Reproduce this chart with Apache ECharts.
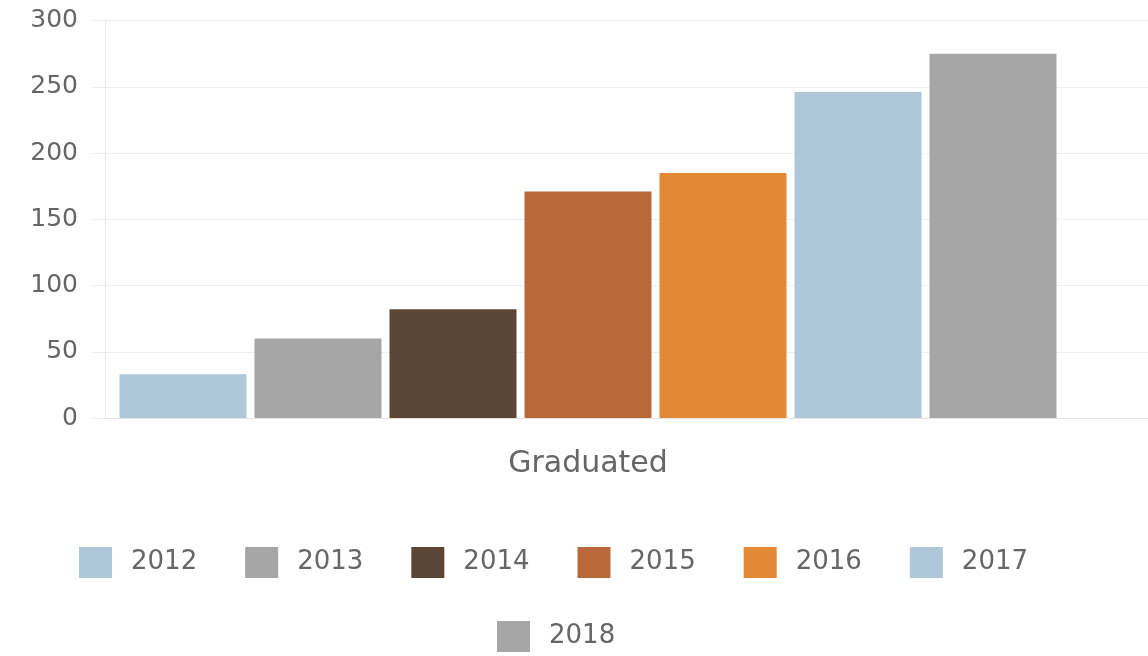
<!DOCTYPE html>
<html>
<head>
<meta charset="utf-8">
<script src="https://cdn.jsdelivr.net/npm/echarts@6/dist/echarts.min.js"></script>
<style>html,body{margin:0;padding:0;background:#fff;}#c{width:1148px;height:656px;}</style>
</head>
<body>
<div id="c"></div>
<script>
const categories = ['Graduated'];
const seriesNames = ['2012', '2013', '2014', '2015', '2016', '2017', '2018'];
const seriesValues = [[33], [60], [82], [171], [185], [246], [275]];
const seriesColors = ['#aec8d9', '#a6a6a6', '#5b4636', '#b9683a', '#e38834', '#aec8d9', '#a6a6a6'];
const yTicks = { min: 0, max: 300, interval: 50 };

const FONT = 'DejaVu Sans';
const chart = echarts.init(document.getElementById('c'));

const series = seriesNames.map((n, i) => ({
  name: n,
  type: 'bar',
  xAxisIndex: 0,
  yAxisIndex: 0,
  data: seriesValues[i],
  barWidth: 127,
  barGap: '6.3%',
  itemStyle: { color: seriesColors[i] },
  emphasis: { disabled: true }
}));

const legendText = { color: '#666', fontSize: 26, fontFamily: FONT, padding: [0, 0, 0, 14] };

chart.setOption({
  animation: false,
  backgroundColor: '#fff',
  grid: [
    { left: 105, right: 77, top: 20.5, bottom: 238 },
    { left: 105, right: 0, top: 20.5, bottom: 238 }
  ],
  legend: [
    { data: seriesNames.slice(0, 6), left: 74, top: 542, itemWidth: 33, itemHeight: 31, itemGap: 48,
      icon: 'rect', textStyle: legendText, selectedMode: false },
    { data: seriesNames.slice(6), left: 492, top: 616, itemWidth: 33, itemHeight: 31,
      icon: 'rect', textStyle: legendText, selectedMode: false }
  ],
  xAxis: [
    { type: 'category', gridIndex: 0, data: categories,
      axisLine: { show: false }, axisTick: { show: false },
      axisLabel: { color: '#666', fontSize: 30, fontFamily: FONT, margin: 31 } },
    { type: 'value', gridIndex: 1, min: 0, max: 1,
      axisLine: { show: true, lineStyle: { color: '#e4e4e4' } },
      axisTick: { show: false }, axisLabel: { show: false }, splitLine: { show: false } }
  ],
  yAxis: [
    { type: 'value', gridIndex: 0, min: yTicks.min, max: yTicks.max, interval: yTicks.interval,
      axisLine: { show: true, lineStyle: { color: '#e6e6e6' } },
      axisTick: { show: true, length: 12, lineStyle: { color: '#ececec' } },
      axisLabel: { color: '#666', fontSize: 25, fontFamily: FONT, margin: 27 },
      splitLine: { show: false } },
    { type: 'value', gridIndex: 1, min: yTicks.min, max: yTicks.max, interval: yTicks.interval,
      axisLine: { show: false }, axisTick: { show: false }, axisLabel: { show: false },
      splitLine: { show: true, lineStyle: { color: '#efefef' } } }
  ],
  series: series
});
</script>
</body>
</html>
